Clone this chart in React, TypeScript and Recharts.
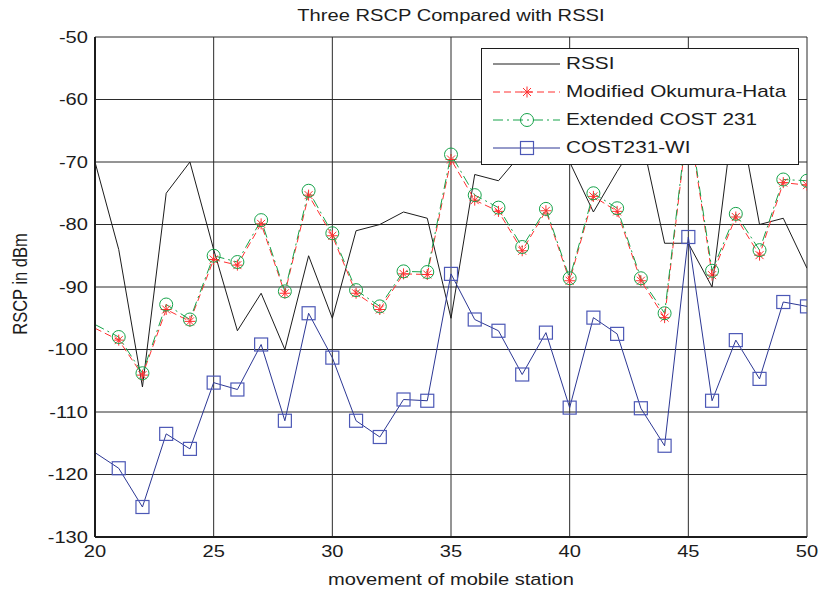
import { CartesianGrid, Legend, Line, LineChart, XAxis, YAxis } from 'recharts'

// movement of the mobile station (x) and the four received-level traces in dBm
const stations = [
  20, 21, 22, 23, 24, 25, 26, 27, 28, 29, 30, 31, 32, 33, 34, 35,
  36, 37, 38, 39, 40, 41, 42, 43, 44, 45, 46, 47, 48, 49, 50,
]
const rssi = [
  -70, -84, -106, -75, -70, -84, -97, -91, -100, -85, -95, -81, -80, -78, -79, -95,
  -72, -73, -68.5, -66, -70, -78, -71.5, -65.5, -83, -83, -90, -59.5, -80, -79, -87,
]
const okumuraHata = [
  -96.6, -98.5, -104.1, -93.6, -95.5, -85.6, -86.5, -79.9, -91, -75.3, -81.8, -91, -93.6, -87.9, -88, -69.6,
  -76.1, -77.9, -84.2, -77.8, -89, -75.5, -77.9, -89, -94.9, -62.8, -88.1, -78.8, -84.9, -73.3, -73.7,
]
const extendedCost231 = [
  -96, -98, -103.8, -92.8, -95.2, -85, -86, -79.3, -90.7, -74.6, -81.4, -90.5, -93.1, -87.5, -87.6, -68.8,
  -75.3, -77.3, -83.6, -77.5, -88.6, -75, -77.4, -88.6, -94.2, -62.3, -87.4, -78.3, -84.1, -72.8, -73,
]
const cost231Wi = [
  -116.5, -119, -125.2, -113.5, -115.9, -105.3, -106.4, -99.2, -111.4, -94.2, -101.3, -111.4, -114, -108, -108.2, -87.9,
  -95.2, -97, -104, -97.3, -109.3, -94.9, -97.5, -109.4, -115.4, -82, -108.2, -98.5, -104.7, -92.4, -93.1,
]
const xTicks = [20, 25, 30, 35, 40, 45, 50]
const yTicks = [-130, -120, -110, -100, -90, -80, -70, -60, -50]

const data = stations.map((station, i) => ({
  station,
  rssi: rssi[i],
  hata: okumuraHata[i],
  cost231: extendedCost231[i],
  wi: cost231Wi[i],
}))

const FONT = '"Liberation Sans", Arial, Helvetica, sans-serif'
const FONT_SIZE = 16.5
const STRETCH = 1.22 // the original figure is stretched sideways
const INK = '#1c1c1c'
const RED = '#ff3030'
const GREEN = '#16a34a'
const NAVY = '#2c3794'
const NAVY_MARK = '#4c58b6'

type Marker = 'star' | 'circle' | 'square' | null

function drawMarker(kind: Marker, cx: number, cy: number, key?: string) {
  if (kind === 'star') {
    const r = 5.5
    const d = 4
    return (
      <g key={key} stroke={RED} strokeWidth={1}>
        <line x1={cx - r} y1={cy} x2={cx + r} y2={cy} />
        <line x1={cx} y1={cy - r} x2={cx} y2={cy + r} />
        <line x1={cx - d} y1={cy - d} x2={cx + d} y2={cy + d} />
        <line x1={cx - d} y1={cy + d} x2={cx + d} y2={cy - d} />
      </g>
    )
  }
  if (kind === 'circle') {
    return <circle key={key} cx={cx} cy={cy} r={6.5} fill="none" stroke={GREEN} strokeWidth={1} />
  }
  if (kind === 'square') {
    return (
      <rect key={key} x={cx - 6.5} y={cy - 6.5} width={13} height={13} fill="none" stroke={NAVY_MARK} strokeWidth={1.2} />
    )
  }
  return null
}

// first sample sits on the left axis edge, the original shows no marker there
const makeDot = (kind: Marker) => (props: any) => {
  const { cx, cy, payload } = props
  if (cx == null || cy == null || payload.station === stations[0]) return <g key={`n-${kind}-${props.index}`} />
  return drawMarker(kind, cx, cy, `${kind}-${payload.station}`)
}

const series = [
  { key: 'rssi', name: 'RSSI', color: INK, dash: undefined, marker: null as Marker },
  { key: 'hata', name: 'Modified Okumura-Hata', color: RED, dash: '7 4', marker: 'star' as Marker },
  { key: 'cost231', name: 'Extended COST 231', color: GREEN, dash: '10 4 2 4', marker: 'circle' as Marker },
  { key: 'wi', name: 'COST231-WI', color: NAVY, dash: undefined, marker: 'square' as Marker },
]

function StretchTick(props: any) {
  const { x, y, payload, axis } = props
  const isX = axis === 'x'
  return (
    <text
      transform={`translate(${x},${y}) scale(${STRETCH},1)`}
      textAnchor={isX ? 'middle' : 'end'}
      dy={isX ? '0.71em' : '0.36em'}
      fontSize={FONT_SIZE}
      fontFamily={FONT}
      fill={INK}
    >
      {payload.value}
    </text>
  )
}

function XLabel(props: any) {
  const { viewBox } = props
  return (
    <text
      transform={`translate(${viewBox.x + viewBox.width / 2},${viewBox.y + 48}) scale(${STRETCH},1)`}
      textAnchor="middle"
      fontSize={FONT_SIZE}
      fontFamily={FONT}
      fill={INK}
    >
      movement of mobile station
    </text>
  )
}

function YLabel(props: any) {
  const { viewBox } = props
  return (
    <text
      transform={`translate(${viewBox.x - 15},${viewBox.y + viewBox.height / 2 - 3}) rotate(-90) scale(1,${STRETCH})`}
      textAnchor="middle"
      dy="0.36em"
      fontSize={FONT_SIZE}
      fontFamily={FONT}
      fill={INK}
    >
      RSCP in dBm
    </text>
  )
}

function LegendBox() {
  return (
    <div
      style={{
        width: 318,
        height: 117,
        boxSizing: 'border-box',
        border: `1.5px solid ${INK}`,
        background: '#fff',
        paddingTop: 1,
        fontFamily: FONT,
        fontSize: 17,
        color: INK,
      }}
    >
      {series.map((s) => (
        <div key={s.key} style={{ display: 'flex', alignItems: 'center', height: 28 }}>
          <svg width={84} height={28} style={{ flex: 'none' }}>
            <line x1={11} y1={14} x2={78} y2={14} stroke={s.color} strokeWidth={1} strokeDasharray={s.dash} />
            {drawMarker(s.marker, 45, 14)}
          </svg>
          <span style={{ display: 'inline-block', transform: `scaleX(${STRETCH})`, transformOrigin: 'left center', whiteSpace: 'nowrap' }}>
            {s.name}
          </span>
        </div>
      ))}
    </div>
  )
}

export default function App() {
  return (
    <div style={{ position: 'absolute', left: 0, top: 0, width: 823, height: 590, background: '#fff' }}>
      <div
        style={{
          position: 'absolute',
          left: 95,
          top: 5,
          width: 712,
          textAlign: 'center',
          fontFamily: FONT,
          fontSize: 16.5,
          lineHeight: '20px',
          color: INK,
          zIndex: 2,
        }}
      >
        <span style={{ display: 'inline-block', transform: `scaleX(${STRETCH})` }}>
          Three RSCP Compared with RSSI
        </span>
      </div>
      <LineChart width={823} height={590} data={data} margin={{ top: 37, right: 16, bottom: 23, left: 35 }}>
        <CartesianGrid stroke="#2b2b2b" strokeWidth={1} />
        <XAxis
          type="number"
          dataKey="station"
          domain={[20, 50]}
          ticks={xTicks}
          allowDataOverflow
          height={30}
          tickSize={0}
          tickMargin={8}
          tickLine={false}
          axisLine={{ stroke: INK, strokeWidth: 2 }}
          tick={<StretchTick axis="x" />}
          label={<XLabel />}
        />
        <XAxis
          xAxisId="top"
          orientation="top"
          type="number"
          dataKey="station"
          domain={[20, 50]}
          ticks={xTicks}
          height={0}
          tick={false}
          tickLine={false}
          axisLine={{ stroke: INK, strokeWidth: 2 }}
        />
        <YAxis
          type="number"
          domain={[-130, -50]}
          ticks={yTicks}
          allowDataOverflow
          width={60}
          tickSize={0}
          tickMargin={7}
          tickLine={false}
          axisLine={{ stroke: INK, strokeWidth: 2 }}
          tick={<StretchTick axis="y" />}
          label={<YLabel />}
        />
        <YAxis
          yAxisId="right"
          orientation="right"
          type="number"
          domain={[-130, -50]}
          ticks={yTicks}
          width={0}
          tick={false}
          tickLine={false}
          axisLine={{ stroke: INK, strokeWidth: 2 }}
        />
        {series.map((s) => (
          <Line
            key={s.key}
            type="linear"
            dataKey={s.key}
            name={s.name}
            stroke={s.color}
            strokeWidth={1}
            strokeDasharray={s.dash}
            dot={s.marker ? makeDot(s.marker) : false}
            activeDot={false}
            isAnimationActive={false}
          />
        ))}
        <Legend
          layout="vertical"
          align="center"
          verticalAlign="middle"
          content={<LegendBox />}
          wrapperStyle={{ position: 'absolute', left: 481, top: 48, width: 318, height: 117 }}
        />
      </LineChart>
    </div>
  )
}
